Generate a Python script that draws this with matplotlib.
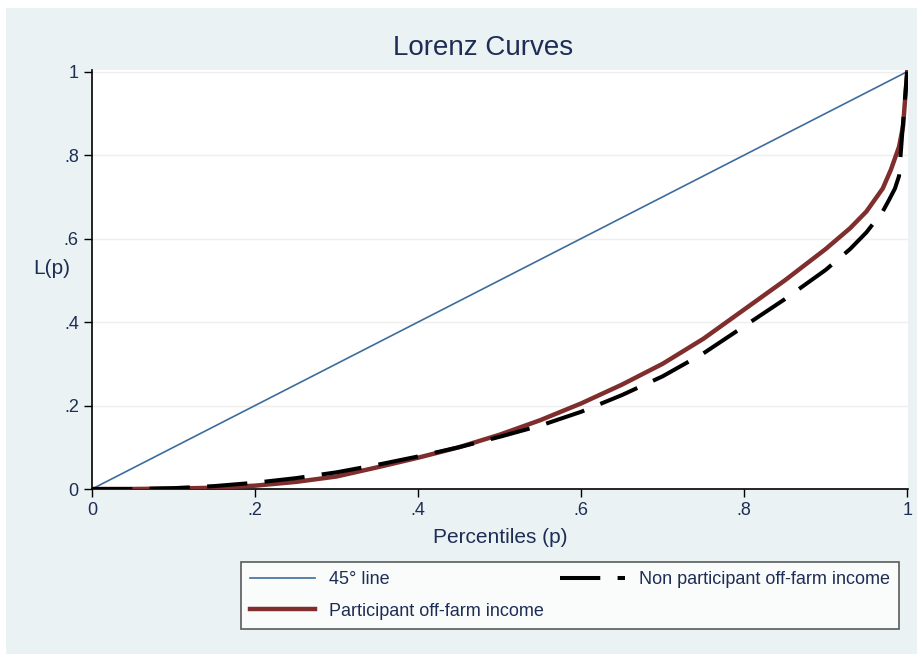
import numpy as np
import matplotlib.pyplot as plt
from matplotlib.patches import Rectangle

# Lorenz curve points
p_part = [0, 0.05, 0.1, 0.15, 0.2, 0.25, 0.3, 0.35, 0.4, 0.45, 0.5, 0.55, 0.6, 0.65, 0.7,
          0.75, 0.8, 0.85, 0.9, 0.93, 0.95, 0.97, 0.98, 0.99, 0.995, 1.0]
L_part = [0, 0, 0.001, 0.003, 0.008, 0.017, 0.03, 0.052, 0.075, 0.1, 0.13, 0.165, 0.205, 0.25, 0.30,
          0.36, 0.43, 0.50, 0.575, 0.625, 0.665, 0.72, 0.765, 0.82, 0.87, 1.0]

p_non = [0, 0.05, 0.1, 0.15, 0.2, 0.25, 0.3, 0.35, 0.4, 0.45, 0.5, 0.55, 0.6, 0.65, 0.7,
         0.75, 0.8, 0.85, 0.9, 0.93, 0.95, 0.97, 0.977, 0.985, 0.99, 0.995, 1.0]
L_non = [0, 0, 0.002, 0.007, 0.015, 0.026, 0.04, 0.058, 0.078, 0.1, 0.125, 0.152, 0.185, 0.225, 0.27,
         0.325, 0.39, 0.455, 0.525, 0.575, 0.615, 0.665, 0.69, 0.72, 0.75, 0.88, 1.0]

p_diag = [0, 1]
ticks = [0, 0.2, 0.4, 0.6, 0.8, 1.0]
tick_labels = ["0", ".2", ".4", ".6", ".8", "1"]

plt.rcParams["font.family"] = ["Liberation Sans Narrow", "Liberation Sans", "DejaVu Sans"]

W, H = 917, 659
fig = plt.figure(figsize=(W / 100, H / 100), dpi=100, facecolor="white")
fig.patches.append(Rectangle((6 / W, 1 - 654 / H), (W - 6) / W, (654 - 8) / H,
                             transform=fig.transFigure, facecolor="#EAF2F3",
                             edgecolor="none", zorder=-10))

ax = fig.add_axes([92 / W, 1 - 489 / H, (908 - 92) / W, (489 - 70) / H])
ax.set_facecolor("white")

navy = "#1e2d55"
ax.plot(p_diag, p_diag, color="#3c6d9c", lw=1.2, label="45° line", zorder=3)
ax.plot(p_part, L_part, color="#7f2d2d", lw=3.2, label="Participant off-farm income",
        zorder=4, solid_joinstyle="round")
ax.plot(p_non, L_non, color="black", lw=2.9, dashes=(10, 4.3),
        label="Non participant off-farm income", zorder=5)

ax.set_xlim(0, 1.001)
ax.set_ylim(0, 1.004)
ax.set_xticks(ticks)
ax.set_xticklabels(tick_labels)
ax.set_yticks(ticks)
ax.set_yticklabels(tick_labels)
ax.tick_params(direction="out", length=6, width=1, labelsize=13, colors="black")
for lab in ax.get_xticklabels() + ax.get_yticklabels():
    lab.set_color(navy)
ax.yaxis.grid(True, color="#eeeeee", lw=1)
ax.set_axisbelow(True)
for side in ["top", "right"]:
    ax.spines[side].set_visible(False)
for side in ["left", "bottom"]:
    ax.spines[side].set_color("black")
    ax.spines[side].set_linewidth(1.2)

fig.text(483 / W, 1 - 48 / H, "Lorenz Curves", ha="center", va="center", fontsize=20, color=navy)
ax.set_xlabel("Percentiles (p)", fontsize=15, color=navy, labelpad=6)
fig.text(52 / W, 1 - 268 / H, "L(p)", ha="center", va="center", fontsize=15, color=navy)

leg = ax.legend(loc="center", ncol=2, mode="expand",
                bbox_to_anchor=(241 / W, 1 - 632 / H, (899 - 241) / W, 73 / H),
                bbox_transform=fig.transFigure, borderaxespad=0, frameon=True, fancybox=False,
                edgecolor="#333333", fontsize=13, handlelength=3.6, borderpad=0.5,
                labelspacing=0.8, columnspacing=2)
leg.get_frame().set_linewidth(1.2)
for t in leg.get_texts():
    t.set_color(navy)

fig.savefig("out.png", dpi=100, facecolor=fig.get_facecolor())
